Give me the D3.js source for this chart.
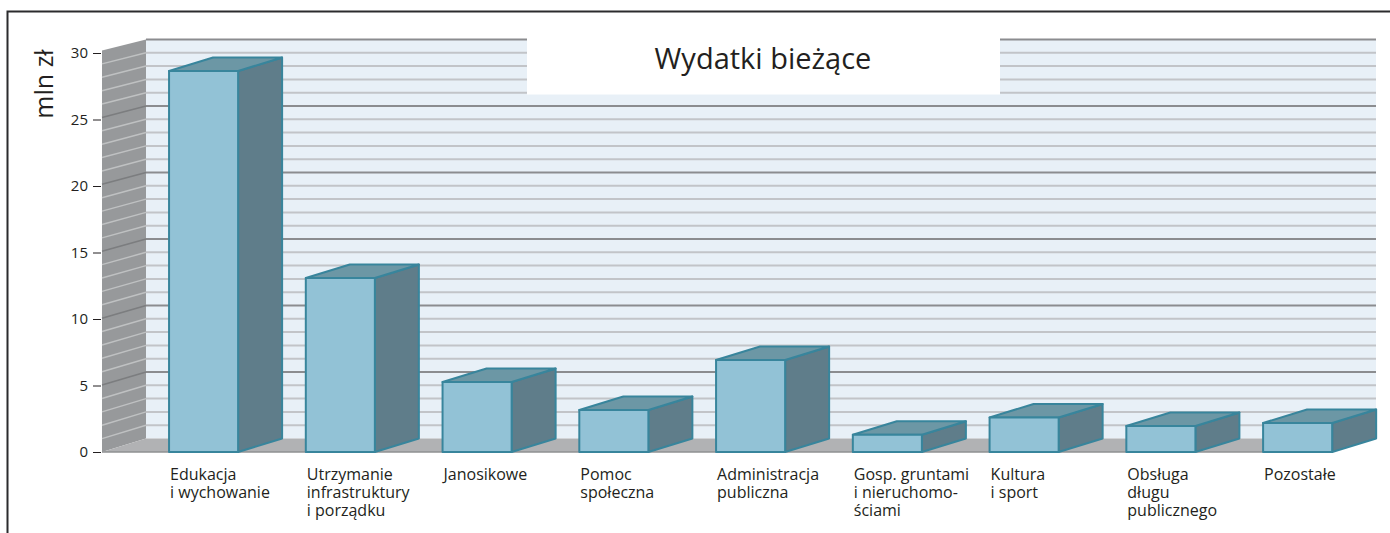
<!DOCTYPE html>
<html>
<head>
<meta charset="utf-8">
<script src="https://cdn.jsdelivr.net/npm/d3@7"></script>
<style>
  html, body { margin: 0; padding: 0; background: #fff; }
  svg { display: block; }
  text { font-family: "Open Sans", sans-serif; fill: #231f20; }
</style>
</head>
<body>
<div id="chart"></div>
<script>
/* DATA */
const categories = [
  "Edukacja|i wychowanie",
  "Utrzymanie|infrastruktury|i porządku",
  "Janosikowe",
  "Pomoc|społeczna",
  "Administracja|publiczna",
  "Gosp. gruntami|i nieruchomo-|ściami",
  "Kultura|i sport",
  "Obsługa|długu|publicznego",
  "Pozostałe"
];
const values = [28.65, 13.08, 5.26, 3.16, 6.92, 1.3, 2.6, 1.95, 2.18];
const yTicks = [0, 5, 10, 15, 20, 25, 30];
const gridSteps = d3.range(0, 31);
const chartTitle = "Wydatki bieżące";
const yLabel = "mln zł";

/* CONSTANTS */
const width = 1390,
  height = 533,
  depthX = 44,
  depthY = 13.5;

const colors = {
  wall: "#e8f0f7",
  grid: "#c2c4c8",
  gridMajor: "#8b8c8f",
  side: "#97999b",
  sideGrid: "#bfc1c2",
  sideMajor: "#7b7d7f",
  floor: "#b1b2b4",
  floorEdge: "#8f9092",
  front: "#92c2d6",
  barSide: "#5e7d8a",
  barTop: "#6c97a5",
  edge: "#38859c"
};

/* SCALES */
const xScale = d3.scaleBand()
  .domain(categories)
  .range([135.2, 1366])
  .paddingInner(0.495)
  .paddingOuter(0.2475);

const yScale = d3.scaleLinear()
  .domain([0, 30])
  .range([452, 53]);

// the left wall's near edge runs slightly shorter than the axis
const sideScale = d3.scaleLinear()
  .domain([0, 30])
  .range([452, 50.5]);

const wallLeft = 102,
  wallRight = 1376;

const svg = d3.select("#chart")
  .append("svg")
  .attr("width", width)
  .attr("height", height);

// the reference is a soft scan, so take the hard edge off the marks
svg.append("defs")
  .append("filter")
  .attr("id", "soft")
  .append("feGaussianBlur")
  .attr("stdDeviation", 0.5);

const poly = pts => pts.map(p => p.join(",")).join(" ");

const plot = svg.append("g").attr("filter", "url(#soft)");

// frame, only top and left edges are visible
svg.append("path")
  .attr("d", d3.line()([[7.5, height], [7.5, 11.5], [width, 11.5]]))
  .attr("fill", "none")
  .attr("stroke", "#2b2b2d")
  .attr("stroke-width", 2);

// back wall
plot.append("rect")
  .attr("x", wallLeft + depthX)
  .attr("y", yScale(30) - depthY)
  .attr("width", wallRight - wallLeft - depthX)
  .attr("height", yScale(0) - yScale(30))
  .attr("fill", colors.wall);

// left wall
plot.append("polygon")
  .attr("points", poly([
    [wallLeft, sideScale(30)],
    [wallLeft + depthX, yScale(30) - depthY],
    [wallLeft + depthX, yScale(0) - depthY],
    [wallLeft, sideScale(0)]
  ]))
  .attr("fill", colors.side);

// floor
plot.append("polygon")
  .attr("points", poly([
    [wallLeft, yScale(0)],
    [wallLeft + depthX, yScale(0) - depthY],
    [wallRight, yScale(0) - depthY],
    [wallRight - depthX, yScale(0)]
  ]))
  .attr("fill", colors.floor);

plot.append("line")
  .attr("x1", wallLeft)
  .attr("x2", wallRight - depthX)
  .attr("y1", yScale(0))
  .attr("y2", yScale(0))
  .attr("stroke", colors.floorEdge)
  .attr("stroke-width", 1.5);

// grid lines on the back wall
plot.append("g")
  .selectAll("line")
  .data(gridSteps.filter(d => d > 0))
  .join("line")
  .attr("x1", wallLeft + depthX)
  .attr("x2", wallRight)
  .attr("y1", d => yScale(d) - depthY)
  .attr("y2", d => yScale(d) - depthY)
  .attr("stroke", d => d % 5 === 0 ? colors.gridMajor : colors.grid)
  .attr("stroke-width", 2);

// grid lines on the left wall
plot.append("g")
  .selectAll("line")
  .data(gridSteps.filter(d => d > 0 && d < 30))
  .join("line")
  .attr("x1", wallLeft)
  .attr("x2", wallLeft + depthX)
  .attr("y1", d => sideScale(d))
  .attr("y2", d => yScale(d) - depthY)
  .attr("stroke", d => d % 5 === 0 ? colors.sideMajor : colors.sideGrid)
  .attr("stroke-width", 1.5);

// title box sits over the wall
plot.append("rect")
  .attr("x", 527)
  .attr("y", 20)
  .attr("width", 473)
  .attr("height", 74.5)
  .attr("fill", "#fff");

svg.append("text")
  .attr("x", 763)
  .attr("y", 69)
  .attr("text-anchor", "middle")
  .attr("font-size", 29)
  .text(chartTitle);

// bars
const bars = plot.append("g")
  .selectAll("g")
  .data(categories.map((c, i) => ({ c, v: values[i] })))
  .join("g")
  .attr("stroke", colors.edge)
  .attr("stroke-width", 2)
  .attr("stroke-linejoin", "round");

bars.append("polygon")
  .attr("fill", colors.barSide)
  .attr("points", d => {
    const r = xScale(d.c) + xScale.bandwidth();
    return poly([
      [r, yScale(d.v)],
      [r + depthX, yScale(d.v) - depthY],
      [r + depthX, yScale(0) - depthY],
      [r, yScale(0)]
    ]);
  });

bars.append("polygon")
  .attr("fill", colors.barTop)
  .attr("points", d => {
    const l = xScale(d.c), r = l + xScale.bandwidth();
    return poly([
      [l, yScale(d.v)],
      [l + depthX, yScale(d.v) - depthY],
      [r + depthX, yScale(d.v) - depthY],
      [r, yScale(d.v)]
    ]);
  });

bars.append("rect")
  .attr("fill", colors.front)
  .attr("x", d => xScale(d.c))
  .attr("y", d => yScale(d.v))
  .attr("width", xScale.bandwidth())
  .attr("height", d => yScale(0) - yScale(d.v));

// y axis
const yAxis = d3.axisLeft(yScale)
  .tickValues(yTicks)
  .tickSize(8)
  .tickPadding(5);

const yAxisGroup = svg.append("g")
  .attr("transform", `translate(${wallLeft - 1}, 0)`)
  .call(yAxis);

yAxisGroup.select(".domain").remove();
yAxisGroup.selectAll(".tick line").attr("stroke", "#231f20");
yAxisGroup.selectAll(".tick text")
  .attr("font-size", 15)
  .attr("font-family", '"Open Sans", sans-serif')
  .attr("fill", "#231f20");

svg.append("text")
  .attr("transform", "translate(53, 84) rotate(-90)")
  .attr("text-anchor", "middle")
  .attr("font-size", 25)
  .text(yLabel);

// category labels
svg.append("g")
  .selectAll("text")
  .data(categories)
  .join("text")
  .attr("x", d => xScale(d) + 1)
  .attr("y", 480)
  .attr("font-size", 16)
  .selectAll("tspan")
  .data(d => d.split("|").map(t => ({ t, x: xScale(d) + 1 })))
  .join("tspan")
  .attr("x", d => d.x)
  .attr("dy", (d, i) => i === 0 ? 0 : 18)
  .text(d => d.t);
</script>
</body>
</html>
